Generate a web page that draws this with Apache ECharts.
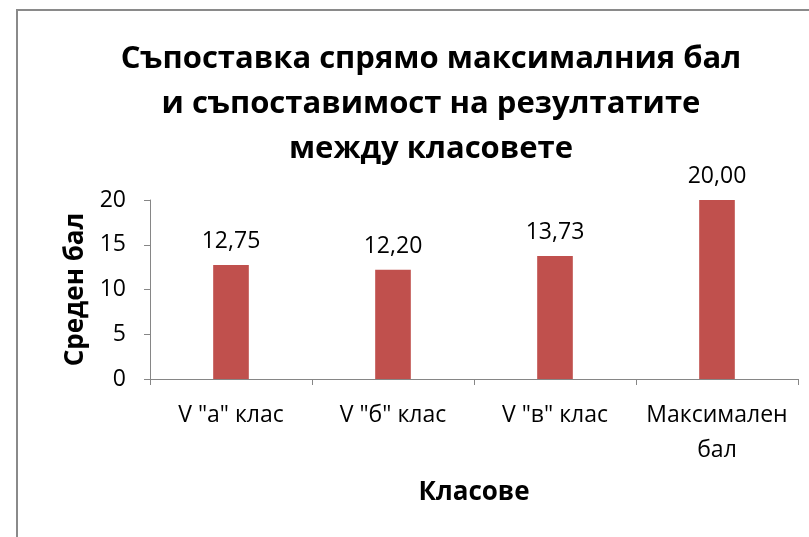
<!DOCTYPE html>
<html>
<head>
<meta charset="utf-8">
<script src="https://cdn.jsdelivr.net/npm/echarts@6/dist/echarts.min.js"></script>
<style>
    html, body {margin: 0; padding: 0; background: #fff;}
    #frame {position: absolute; left: 16px; top: 9px; width: 820px; height: 560px; border: 2px solid #8a8a8a; box-sizing: border-box;}
    #chart {position: absolute; left: 0; top: 0; width: 809px; height: 537px;}
</style>
</head>
<body>
<div id="frame"></div>
<div id="chart"></div>
<script>
// данни от диаграмата
const categories = ['V "а" клас', 'V "б" клас', 'V "в" клас', 'Максимален\nбал']
const averageScores = [12.75, 12.20, 13.73, 20.00]
const yTicks = [0, 5, 10, 15, 20]

const fontName = 'Open Sans'

const chart = echarts.init(document.getElementById('chart'), null, {renderer: 'canvas'})

let option = {
    animation: false,
    title: {
        text: 'Съпоставка спрямо максималния бал\nи съпоставимост на резултатите\nмежду класовете',
        left: 426,
        top: 32,
        textAlign: 'center',
        textStyle: {
            fontFamily: fontName,
            fontSize: 31,
            fontWeight: 'bold',
            color: '#000',
            lineHeight: 45,
        },
    },
    grid: {
        left: 150,
        right: 11,
        top: 200,
        bottom: 158,
    },
    xAxis: {
        type: 'category',
        data: categories,
        name: 'Класове',
        nameLocation: 'middle',
        nameGap: 101,
        nameTextStyle: {
            fontFamily: fontName,
            fontSize: 26,
            fontWeight: 'bold',
            color: '#000',
        },
        axisLine: {lineStyle: {color: '#868686', width: 1}},
        axisTick: {show: true, alignWithLabel: false, length: 6, lineStyle: {color: '#868686'}},
        axisLabel: {
            fontFamily: fontName,
            fontSize: 23,
            color: '#000',
            margin: 19,
            lineHeight: 35,
            interval: 0,
        },
    },
    yAxis: {
        type: 'value',
        min: yTicks[0],
        max: yTicks[yTicks.length - 1],
        interval: 5,
        name: 'Среден бал',
        nameLocation: 'middle',
        nameGap: 58,
        nameRotate: 90,
        nameTextStyle: {
            fontFamily: fontName,
            fontSize: 26,
            fontWeight: 'bold',
            color: '#000',
        },
        axisLine: {show: true, lineStyle: {color: '#868686', width: 1}},
        axisTick: {show: true, length: 6, lineStyle: {color: '#868686'}},
        splitLine: {show: false},
        axisLabel: {
            fontFamily: fontName,
            fontSize: 23,
            color: '#000',
            margin: 24,
        },
    },
    series: [{
        name: 'Среден бал',
        type: 'bar',
        data: averageScores,
        barWidth: '22%',
        itemStyle: {color: '#C0504D'},
        label: {
            show: true,
            position: 'top',
            distance: 12,
            fontFamily: fontName,
            fontSize: 23,
            color: '#000',
            formatter: (p) => p.value.toFixed(2).replace('.', ','),
        },
    }],
}
chart.setOption(option)
</script>
</body>
</html>
